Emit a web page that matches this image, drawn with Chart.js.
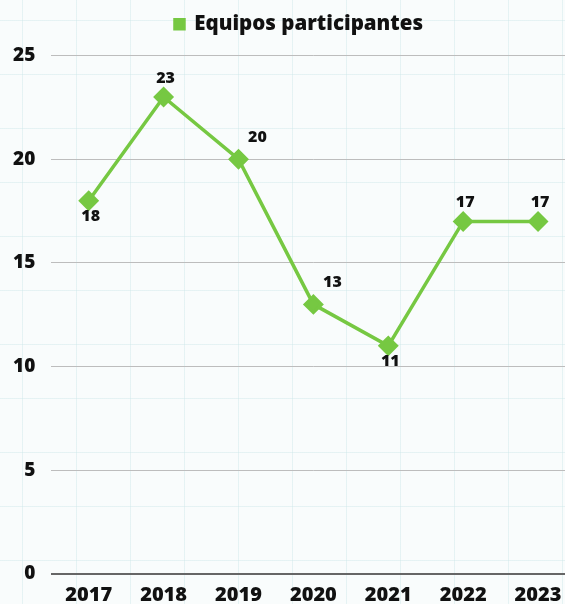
<!DOCTYPE html>
<html>
<head>
<meta charset="utf-8">
<script src="https://cdn.jsdelivr.net/npm/chart.js@4"></script>
<style>
  html, body { margin: 0; padding: 0; }
  body {
    width: 565px; height: 604px; overflow: hidden;
    background-color: #f9fcfc;
    background-image:
      linear-gradient(to right, rgba(205, 232, 234, 0.45) 1px, transparent 1px),
      linear-gradient(to bottom, rgba(205, 232, 234, 0.45) 1px, transparent 1px);
    background-size: 54px 54px;
    background-position: 22px 20px;
  }
  #wrap { width: 590px; height: 617px; margin-left: -3px; }
</style>
</head>
<body>
<div id="wrap"><canvas id="myChart"></canvas></div>
<script>
const years = ['2017', '2018', '2019', '2020', '2021', '2022', '2023']
const equipos = [18, 23, 20, 13, 11, 17, 17]
const yTicks = [0, 5, 10, 15, 20, 25]
// where each value label sits relative to its point
const labelSpots = ['below', 'above', 'aboveRight', 'aboveRight', 'below', 'above', 'above']

const green = '#76c842'
const fontFamily = "'Open Sans', sans-serif"

const valueLabels = {
    id: 'valueLabels',
    afterDatasetsDraw(chart) {
        const ctx = chart.ctx
        const meta = chart.getDatasetMeta(0)
        ctx.save()
        ctx.font = '800 16px ' + fontFamily
        ctx.fillStyle = '#111'
        ctx.textAlign = 'center'
        ctx.textBaseline = 'middle'
        meta.data.forEach((pt, i) => {
            let dx = 2, dy = -19
            if (labelSpots[i] === 'below') dy = 16
            if (labelSpots[i] === 'aboveRight') { dx = 19; dy = -22 }
            ctx.fillText(String(equipos[i]), pt.x + dx, pt.y + dy)
        })
        ctx.restore()
    }
}

// extra room between legend and plot, legend nudged right
const legendGap = {
    id: 'legendGap',
    beforeInit(chart) {
        const fit = chart.legend.fit
        chart.legend.fit = function () {
            fit.call(this)
            this.height += 11
        }
    },
    afterLayout(chart) {
        chart.legend.left += 7
        chart.legend.right += 7
    }
}

new Chart(document.getElementById('myChart').getContext('2d'), {
    type: 'line',
    data: {
        labels: years,
        datasets: [
            {
                label: 'Equipos participantes',
                data: equipos,
                borderColor: green,
                backgroundColor: green,
                borderWidth: 3.5,
                pointStyle: 'rectRot',
                pointRadius: 8,
                pointHoverRadius: 8,
                tension: 0
            }
        ]
    },
    options: {
        responsive: true,
        maintainAspectRatio: false,
        animation: false,
        layout: { padding: { left: 0, right: 0, top: 4, bottom: 0 } },
        plugins: {
            legend: {
                position: 'top',
                labels: {
                    usePointStyle: true,
                    pointStyle: 'rect',
                    boxWidth: 9,
                    boxHeight: 9,
                    padding: 10,
                    color: '#111',
                    font: { family: fontFamily, size: 20.5, weight: '800' }
                }
            },
            tooltip: { enabled: false }
        },
        scales: {
            x: {
                offset: true,
                grid: { display: false, drawTicks: false },
                border: { display: false },
                ticks: {
                    padding: 17,
                    color: '#111',
                    font: { family: fontFamily, size: 20, weight: '800', lineHeight: 0.45 }
                }
            },
            y: {
                min: 0,
                max: 25,
                afterBuildTicks: axis => { axis.ticks = yTicks.map(v => ({ value: v })) },
                grid: {
                    drawTicks: false,
                    color: c => c.tick && c.tick.value === 0 ? '#666' : '#bdbdbd',
                    lineWidth: c => c.tick && c.tick.value === 0 ? 2 : 1
                },
                border: { display: false },
                ticks: {
                    padding: 16,
                    color: '#111',
                    font: { family: fontFamily, size: 19, weight: '800' }
                }
            }
        }
    },
    plugins: [valueLabels, legendGap]
})
</script>
</body>
</html>
